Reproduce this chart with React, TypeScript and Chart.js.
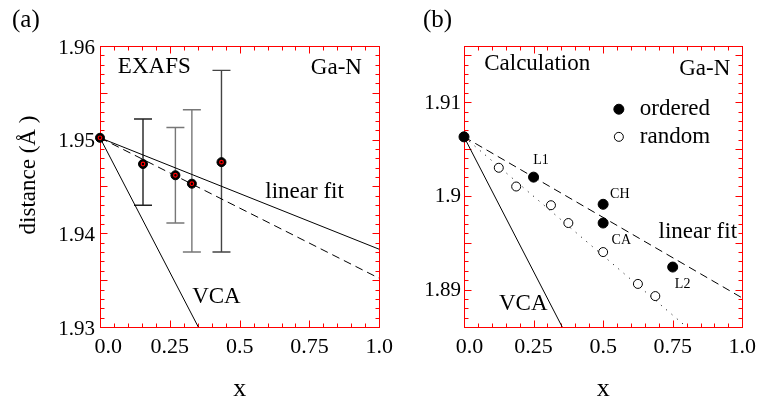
import React, { useEffect, useRef } from 'react';
import { Chart, registerables } from 'chart.js';

Chart.register(...registerables);

const FONT = "'Liberation Serif', 'Times New Roman', serif";

// ---------- shared x axis ----------
const xTickValues = [0, 0.25, 0.5, 0.75, 1.0];
const xTickLabels = ['0.0', '0.25', '0.5', '0.75', '1.0'];

// ---------- panel (a): EXAFS ----------
const aYTickValues = [1.93, 1.94, 1.95, 1.96];
const aYTickLabels = ['1.93', '1.94', '1.95', '1.96'];
const expX = [0, 0.154, 0.27, 0.329, 0.435];
const expY = [1.9502, 1.9474, 1.9462, 1.9453, 1.9476];
const expErrLow = [null, 1.943, 1.9411, 1.938, 1.938];
const expErrHigh = [null, 1.9522, 1.9513, 1.9532, 1.9574];
const aFitX = [0, 1.0];
const aFitY = [1.9502, 1.9383];
const aDashX = [0, 1.0];
const aDashY = [1.9502, 1.9352];
const aVcaX = [0, 0.352];
const aVcaY = [1.9502, 1.93];

// ---------- panel (b): Calculation ----------
const bYTickValues = [1.89, 1.9, 1.91];
const bYTickLabels = ['1.89', '1.9', '1.91'];
const bOrderedX = [0, 0.25, 0.5, 0.5, 0.75];
const bOrderedY = [1.9063, 1.902, 1.8991, 1.8971, 1.8924];
const bRandomX = [0.125, 0.1875, 0.3125, 0.375, 0.5, 0.625, 0.6875];
const bRandomY = [1.903, 1.901, 1.899, 1.8971, 1.894, 1.8906, 1.8893];
const bFitX = [0, 1.0];
const bFitY = [1.9063, 1.8891];
const bRandFitX = [0, 0.8];
const bRandFitY = [1.9063, 1.886];
const bVcaX = [0, 0.353];
const bVcaY = [1.9063, 1.886];

const zip = (xs: number[], ys: number[]) => xs.map((x, i) => ({ x, y: ys[i] }));

const decorPlugin = {
  id: 'decor',
  beforeDatasetsDraw(chart: any, _args: any, opts: any) {
    const { ctx, chartArea: ca, scales } = chart;
    const xs = scales.x;
    const ys = scales.y;
    ctx.save();
    const L = Math.round(ca.left) + 0.5;
    const R = Math.round(ca.right) + 0.5;
    const T = Math.round(ca.top) + 0.5;
    const B = Math.round(ca.bottom) + 0.5;
    ctx.strokeStyle = '#ff0000';
    ctx.lineWidth = 1;
    ctx.beginPath();
    const steps = (min: number, max: number, step: number) => {
      const out: number[] = [];
      const i0 = Math.ceil(min / step - 1e-6);
      const i1 = Math.floor(max / step + 1e-6);
      for (let i = i0; i <= i1; i++) out.push(i * step);
      return out;
    };
    const isMajor = (v: number, major: number) => Math.abs(v / major - Math.round(v / major)) < 1e-6;
    for (const v of steps(xs.min, xs.max, opts.xMinor)) {
      const px = Math.round(xs.getPixelForValue(v)) + 0.5;
      const len = isMajor(v, opts.xMajor) ? 7 : 4;
      ctx.moveTo(px, B); ctx.lineTo(px, B - len);
      ctx.moveTo(px, T); ctx.lineTo(px, T + len);
    }
    for (const v of steps(ys.min, ys.max, opts.yMinor)) {
      const py = Math.round(ys.getPixelForValue(v)) + 0.5;
      const len = isMajor(v, opts.yMajor) ? 7 : 4;
      ctx.moveTo(L, py); ctx.lineTo(L + len, py);
      ctx.moveTo(R, py); ctx.lineTo(R - len, py);
    }
    ctx.stroke();
    ctx.strokeRect(L, T, R - L, B - T);
    if (opts.errorBars) {
      const eb = opts.errorBars;
      ctx.lineWidth = 1.4;
      eb.x.forEach((xv: number, i: number) => {
        if (eb.low[i] == null || eb.high[i] == null) return;
        const px = xs.getPixelForValue(xv);
        const y1 = ys.getPixelForValue(eb.low[i]);
        const y2 = ys.getPixelForValue(eb.high[i]);
        ctx.strokeStyle = eb.colors[i] || '#444';
        ctx.beginPath();
        ctx.moveTo(px, y1); ctx.lineTo(px, y2);
        ctx.moveTo(px - 9, y1); ctx.lineTo(px + 9, y1);
        ctx.moveTo(px - 9, y2); ctx.lineTo(px + 9, y2);
        ctx.stroke();
      });
    }
    ctx.restore();
  },
  afterDatasetsDraw(chart: any, _args: any, opts: any) {
    const { ctx, scales } = chart;
    const xs = scales.x;
    const ys = scales.y;
    ctx.save();
    ctx.fillStyle = '#000';
    ctx.textBaseline = 'middle';
    for (const a of opts.items || []) {
      ctx.font = `${a.size}px ${FONT}`;
      ctx.textAlign = a.align || 'left';
      ctx.fillText(a.text, xs.getPixelForValue(a.x), ys.getPixelForValue(a.y));
    }
    if (opts.panel) {
      ctx.font = `${opts.panel.size}px ${FONT}`;
      ctx.textAlign = 'left';
      ctx.fillText(opts.panel.text, opts.panel.px, opts.panel.py);
    }
    if (opts.legend) {
      const lg = opts.legend;
      lg.rows.forEach((row: any) => {
        const ds = chart.data.datasets[row.dataset];
        const cx = xs.getPixelForValue(lg.x);
        const cy = ys.getPixelForValue(row.y);
        ctx.beginPath();
        ctx.arc(cx, cy, ds.pointRadius, 0, Math.PI * 2);
        ctx.fillStyle = ds.pointBackgroundColor;
        ctx.fill();
        ctx.lineWidth = ds.pointBorderWidth;
        ctx.strokeStyle = ds.pointBorderColor;
        ctx.stroke();
        ctx.fillStyle = '#000';
        ctx.font = `${lg.size}px ${FONT}`;
        ctx.textAlign = 'left';
        ctx.fillText(ds.label, cx + lg.dx, cy);
      });
    }
    ctx.restore();
  },
};

function axisX(labelPad: string) {
  return {
    type: 'linear',
    min: 0,
    max: 1,
    afterFit: (s: any) => { s.height = 78; },
    afterBuildTicks: (s: any) => { s.ticks = xTickValues.map((v) => ({ value: v })); },
    ticks: {
      callback: (_v: any, i: number) => (i === 0 ? labelPad : '') + xTickLabels[i],
      font: { family: FONT, size: 22 },
      color: '#000',
      padding: 7,
      autoSkip: false,
      maxRotation: 0,
      minRotation: 0,
    },
    grid: { display: false, drawTicks: false },
    border: { display: false },
    title: { display: true, text: 'x', color: '#000', font: { family: FONT, size: 26 }, padding: { top: 0, bottom: 0 } },
  };
}

function axisY(min: number, max: number, values: number[], labels: string[], width: number, pad: number, offset: number, title?: string) {
  return {
    type: 'linear',
    min,
    max,
    afterFit: (s: any) => { s.width = width; },
    afterBuildTicks: (s: any) => { s.ticks = values.map((v) => ({ value: v })); },
    ticks: {
      callback: (_v: any, i: number) => labels[i],
      font: { family: FONT, size: 21 },
      color: '#000',
      padding: pad,
      labelOffset: offset,
      autoSkip: false,
    },
    grid: { display: false, drawTicks: false },
    border: { display: false },
    title: title
      ? { display: true, text: title, color: '#000', font: { family: FONT, size: 23 }, padding: { top: 15, bottom: 0 } }
      : { display: false },
  };
}

function lineDs(label: string, xs: number[], ys: number[], dash: number[] = []) {
  return {
    label,
    data: zip(xs, ys),
    showLine: true,
    borderColor: '#000',
    borderWidth: 1,
    borderDash: dash,
    pointRadius: 0,
    fill: false,
    order: 3,
  };
}

function buildA(canvas: HTMLCanvasElement) {
  return new Chart(canvas, {
    type: 'scatter',
    data: {
      datasets: [
        lineDs('linear fit', aFitX, aFitY),
        lineDs('dashed', aDashX, aDashY, [8, 5]),
        lineDs('VCA', aVcaX, aVcaY),
        {
          label: 'EXAFS',
          data: zip(expX, expY),
          showLine: false,
          pointRadius: 4.5,
          pointBackgroundColor: '#000',
          pointBorderColor: '#000',
          pointBorderWidth: 1,
          clip: false,
          order: 2,
        },
        {
          label: 'EXAFS core',
          data: zip(expX, expY),
          showLine: false,
          pointRadius: 1.8,
          pointBackgroundColor: '#000',
          pointBorderColor: '#ff0000',
          pointBorderWidth: 1.2,
          clip: false,
          order: 1,
        },
      ],
    } as any,
    options: {
      responsive: false,
      animation: false,
      events: [],
      layout: { padding: { left: 0, right: 18, top: 46, bottom: 0 } },
      plugins: {
        legend: { display: false },
        tooltip: { enabled: false },
        decor: {
          xMinor: 0.05, xMajor: 0.25, yMinor: 0.001, yMajor: 0.005,
          errorBars: { x: expX, low: expErrLow, high: expErrHigh, colors: ['#222', '#222', '#777', '#777', '#444'] },
          items: [
            { text: 'EXAFS', x: 0.064, y: 1.95776, size: 23 },
            { text: 'Ga-N', x: 0.755, y: 1.95765, size: 23 },
            { text: 'linear fit', x: 0.592, y: 1.94441, size: 23 },
            { text: 'VCA', x: 0.33, y: 1.9332, size: 23 },
          ],
          panel: { text: '(a)', px: 12, py: 20, size: 25 },
        },
      } as any,
      scales: {
        x: axisX('   '),
        y: axisY(1.93, 1.96, aYTickValues, aYTickLabels, 100, 5, 2, '    distance (Å )'),
      } as any,
    },
    plugins: [decorPlugin as any],
  });
}

function buildB(canvas: HTMLCanvasElement) {
  return new Chart(canvas, {
    type: 'scatter',
    data: {
      datasets: [
        lineDs('VCA', bVcaX, bVcaY),
        lineDs('linear fit', bFitX, bFitY, [8, 5]),
        lineDs('random fit', bRandFitX, bRandFitY, [1, 6]),
        {
          label: 'ordered',
          data: zip(bOrderedX, bOrderedY),
          showLine: false,
          pointRadius: 5,
          pointBackgroundColor: '#000',
          pointBorderColor: '#000',
          pointBorderWidth: 1,
          clip: false,
          order: 1,
        },
        {
          label: 'random',
          data: zip(bRandomX, bRandomY),
          showLine: false,
          pointRadius: 4.5,
          pointBackgroundColor: '#fff',
          pointBorderColor: '#000',
          pointBorderWidth: 1,
          clip: false,
          order: 2,
        },
      ],
    } as any,
    options: {
      responsive: false,
      animation: false,
      events: [],
      layout: { padding: { left: 0, right: 16, top: 46, bottom: 0 } },
      plugins: {
        legend: { display: false },
        tooltip: { enabled: false },
        decor: {
          xMinor: 0.05, xMajor: 0.25, yMinor: 0.001, yMajor: 0.005,
          items: [
            { text: 'Calculation', x: 0.0726, y: 1.91405, size: 23 },
            { text: 'Ga-N', x: 0.7735, y: 1.91352, size: 23 },
            { text: 'linear fit', x: 0.699, y: 1.89614, size: 23 },
            { text: 'VCA', x: 0.1257, y: 1.88846, size: 23 },
            { text: 'L1', x: 0.2768, y: 1.90381, size: 14, align: 'center' },
            { text: 'CH', x: 0.56, y: 1.90016, size: 14, align: 'center' },
            { text: 'CA', x: 0.5653, y: 1.89529, size: 14, align: 'center' },
            { text: 'L2', x: 0.7858, y: 1.89056, size: 14, align: 'center' },
          ],
          legend: { x: 0.5565, dx: 21, size: 23, rows: [{ dataset: 3, y: 1.90925 }, { dataset: 4, y: 1.9063 }] },
          panel: { text: '(b)', px: 23, py: 20, size: 25 },
        },
      } as any,
      scales: {
        x: axisX('  '),
        y: axisY(1.886, 1.916, bYTickValues, bYTickLabels, 64, 3, 1),
      } as any,
    },
    plugins: [decorPlugin as any],
  });
}

export default function App() {
  const refA = useRef<HTMLCanvasElement>(null);
  const refB = useRef<HTMLCanvasElement>(null);
  useEffect(() => {
    const a = buildA(refA.current as HTMLCanvasElement);
    const b = buildB(refB.current as HTMLCanvasElement);
    return () => {
      a.destroy();
      b.destroy();
    };
  }, []);
  return (
    <div style={{ position: 'absolute', left: 0, top: 0, width: 763, height: 405, background: '#fff' }}>
      <canvas ref={refA} width={400} height={405} style={{ position: 'absolute', left: 0, top: 0, width: 400, height: 405 }} />
      <canvas ref={refB} width={363} height={405} style={{ position: 'absolute', left: 400, top: 0, width: 363, height: 405 }} />
    </div>
  );
}
